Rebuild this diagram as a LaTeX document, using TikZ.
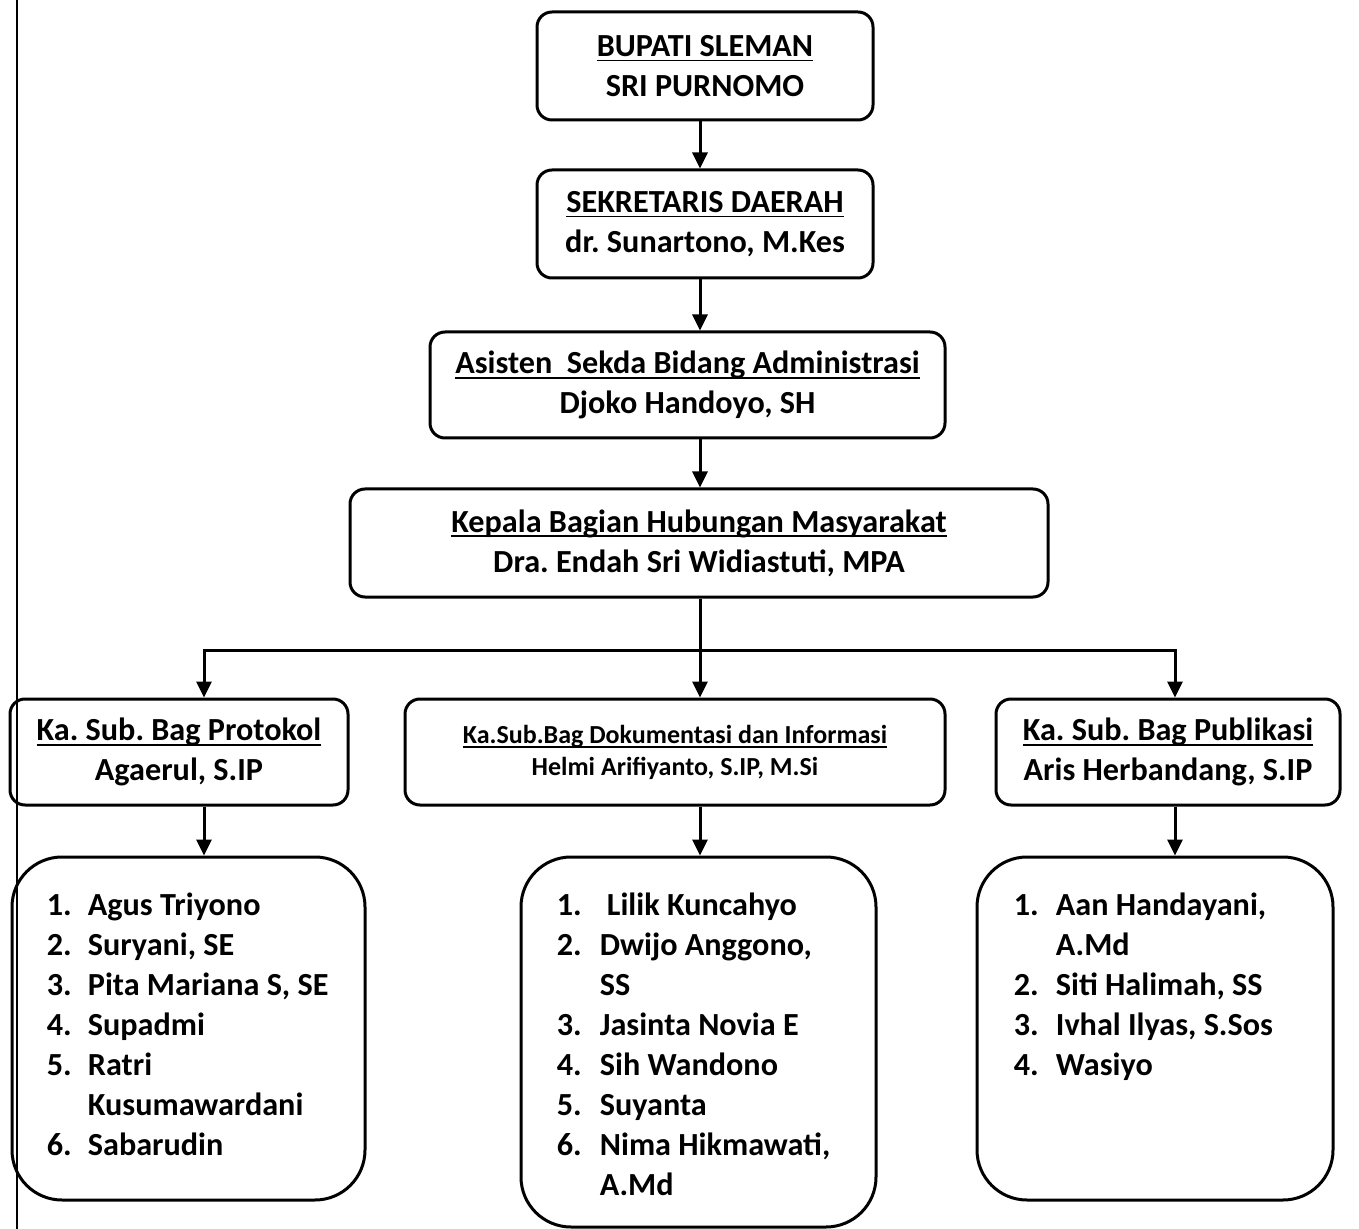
\documentclass[tikz,border=0pt]{standalone}
\usepackage{fontspec}
\setmainfont{Carlito}
\usetikzlibrary{arrows.meta}
\newcommand\ulx[1]{\setbox0\hbox{#1}\rlap{\rule[-2.5pt]{\wd0}{0.9pt}}\box0}
\begin{document}
\frenchspacing
\begin{tikzpicture}[x=0.5pt,y=-0.5pt,
 box/.style={draw, line width=1.5pt, rounded corners=7.5pt, align=center, inner sep=0pt, font=\fontsize{16.1}{20}\selectfont\bfseries},
 smallbox/.style={box, font=\fontsize{13}{16}\selectfont\bfseries},
 listbox/.style={draw, line width=1.5pt, rounded corners=25pt, inner sep=0pt},
 listtext/.style={anchor=north west, inner sep=0pt, font=\fontsize{16.1}{20}\selectfont\bfseries},
 arr/.style={line width=1.5pt, -{Triangle[length=8pt,width=7.5pt]}},
 ln/.style={line width=1.5pt}]
\useasboundingbox (0,0) rectangle (1359,1229);
\draw[line width=1pt] (17,0) -- (17,1229);

\node[box, minimum width=168pt, minimum height=54pt] (b1) at (705,66) {\ulx{BUPATI SLEMAN}\\SRI PURNOMO};
\node[box, minimum width=168pt, minimum height=54pt] (b2) at (705,224) {\ulx{SEKRETARIS DAERAH}\\dr. Sunartono, M.Kes};
\node[box, minimum width=257.5pt, minimum height=53pt] (b3) at (687.5,385) {\ulx{Asisten~ Sekda Bidang Administrasi}\\Djoko Handoyo, SH};
\node[box, minimum width=349pt, minimum height=54pt] (b4) at (699,543) {\ulx{Kepala Bagian Hubungan Masyarakat}\\Dra. Endah Sri Widiastuti, MPA};

\node[box, minimum width=169pt, minimum height=53pt] (s1) at (179,752) {\ulx{Ka. Sub. Bag Protokol}\\Agaerul, S.IP};
\node[smallbox, minimum width=270pt, minimum height=53pt] (s2) at (675,752) {\ulx{Ka.Sub.Bag Dokumentasi dan Informasi}\\Helmi Arifiyanto, S.IP, M.Si};
\node[box, minimum width=172pt, minimum height=53pt] (s3) at (1168,752) {\ulx{Ka. Sub. Bag Publikasi}\\Aris Herbandang, S.IP};

\node[listbox, minimum width=176.5pt, minimum height=171.5pt] (l1) at (188.5,1028.5) {};
\node[listbox, minimum width=177.5pt, minimum height=185pt] (l2) at (698.5,1042) {};
\node[listbox, minimum width=178pt, minimum height=171.5pt] (l3) at (1155,1028.5) {};

\node[listtext] (t1) at ([xshift=18pt,yshift=-16pt]l1.north west) {\begin{tabular}{@{}p{20.5pt}@{}l@{}}
1.&Agus Triyono\\
2.&Suryani, SE\\
3.&Pita Mariana S, SE\\
4.&Supadmi\\
5.&Ratri\\
&Kusumawardani\\
6.&Sabarudin
\end{tabular}};
\node[listtext] (t2) at ([xshift=18.5pt,yshift=-16pt]l2.north west) {\begin{tabular}{@{}p{21.5pt}@{}l@{}}
1.&\hspace{3.5pt}Lilik Kuncahyo\\
2.&Dwijo Anggono,\\
&SS\\
3.&Jasinta Novia E\\
4.&Sih Wandono\\
5.&Suyanta\\
6.&Nima Hikmawati,\\
&A.Md
\end{tabular}};
\node[listtext] (t3) at ([xshift=19pt,yshift=-16pt]l3.north west) {\begin{tabular}{@{}p{21pt}@{}l@{}}
1.&Aan Handayani,\\
&A.Md\\
2.&Siti Halimah, SS\\
3.&Ivhal Ilyas, S.Sos\\
4.&Wasiyo
\end{tabular}};

\coordinate (cx) at (700,0);
\coordinate (cl) at (204,0);
\coordinate (cr) at (1175,0);
\coordinate (bus) at (0,650);
\draw[arr] (b1.south -| cx) -- (b2.north -| cx);
\draw[arr] (b2.south -| cx) -- (b3.north -| cx);
\draw[arr] (b3.south -| cx) -- (b4.north -| cx);
\draw[arr] (b4.south -| cx) -- (s2.north -| cx);
\draw[arr] (bus -| cx) -| (s1.north -| cl);
\draw[arr] (bus -| cx) -| (s3.north -| cr);
\draw[arr] (s1.south -| cl) -- (l1.north -| cl);
\draw[arr] (s2.south -| cx) -- (l2.north -| cx);
\draw[arr] (s3.south -| cr) -- (l3.north -| cr);
\end{tikzpicture}
\end{document}
